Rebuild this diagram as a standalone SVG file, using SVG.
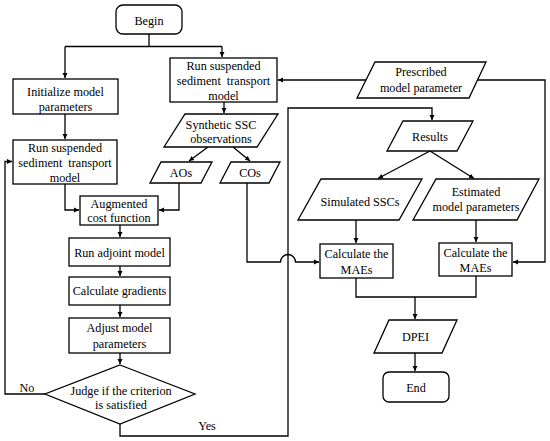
<svg xmlns="http://www.w3.org/2000/svg" width="550" height="441" viewBox="0 0 550 441">
<style>
.s{fill:#fff;stroke:#000;stroke-width:1.3}
.c{fill:none;stroke:#000;stroke-width:1.3}
text{font-family:"Liberation Serif","Times New Roman",serif;font-size:12.2px;fill:#000;text-anchor:middle}
</style>
<defs>
<marker id="a" markerUnits="userSpaceOnUse" markerWidth="6" markerHeight="6" refX="5" refY="3" orient="auto">
<path d="M0,0.5 L5,3 L0,5.5 z" fill="#000"/>
</marker>
</defs>
<rect width="550" height="441" fill="#fff"/>
<g id="connectors">
<path class="c" d="M149,34 V46.5 M65,46.5 H222"/>
<path class="c" d="M65,46.5 V78" marker-end="url(#a)"/>
<path class="c" d="M222,46.5 V57" marker-end="url(#a)"/>
<path class="c" d="M224,102 V113" marker-end="url(#a)"/>
<path class="c" d="M65,114 V139" marker-end="url(#a)"/>
<path class="c" d="M208,147 L189,161" marker-end="url(#a)"/>
<path class="c" d="M233,147 L250,161" marker-end="url(#a)"/>
<path class="c" d="M65,184 V210 H79" marker-end="url(#a)"/>
<path class="c" d="M179,183 V210 H159" marker-end="url(#a)"/>
<path class="c" d="M120,225 V237" marker-end="url(#a)"/>
<path class="c" d="M120,266 V276" marker-end="url(#a)"/>
<path class="c" d="M120,305 V317" marker-end="url(#a)"/>
<path class="c" d="M120,353 V364" marker-end="url(#a)"/>
<path class="c" d="M45,394 H5 V161.5 H12" marker-end="url(#a)"/>
<path class="c" d="M120,424 V436 H288 V108 H432 V120" marker-end="url(#a)"/>
<path class="c" d="M247,183 V262 H280.5 A7.5,7.5 0 0 1 295.5,262 H319" marker-end="url(#a)"/>
<path class="c" d="M366,80 H278" marker-end="url(#a)"/>
<path class="c" d="M477,80 H545 V262 H513" marker-end="url(#a)"/>
<path class="c" d="M430,151 L378,178.5" marker-end="url(#a)"/>
<path class="c" d="M430,151 L474,178.5" marker-end="url(#a)"/>
<path class="c" d="M356,220 V243" marker-end="url(#a)"/>
<path class="c" d="M476,220 V242" marker-end="url(#a)"/>
<path class="c" d="M356,278 V297 H476 V276 M415,297 V319" marker-end="url(#a)"/>
<path class="c" d="M415,353 V371" marker-end="url(#a)"/>
</g>
<g id="begin"><rect class="s" x="116" y="5" width="66" height="29" rx="7"/><text x="149" y="25">Begin</text></g>
<g id="init"><rect class="s" x="13" y="79" width="105" height="35"/><text x="65.5" y="96">Initialize model</text><text x="65.5" y="111">parameters</text></g>
<g id="runR"><rect class="s" x="170" y="58" width="107" height="44"/><text x="223.5" y="70">Run suspended</text><text x="223.5" y="85" word-spacing="3">sediment transport</text><text x="223.5" y="100">model</text></g>
<g id="synth"><polygon class="s" points="185,114 278,114 257,147 164,147"/><text x="221" y="129">Synthetic SSC</text><text x="221" y="143">observations</text></g>
<g id="aos"><polygon class="s" points="161,162 212,162 201,183 150,183"/><text x="181" y="177">AOs</text></g>
<g id="cos"><polygon class="s" points="231,162 280,162 269,183 220,183"/><text x="250" y="177">COs</text></g>
<g id="runL"><rect class="s" x="13" y="140" width="104" height="44"/><text x="65" y="152">Run suspended</text><text x="65" y="167" word-spacing="3">sediment transport</text><text x="65" y="182">model</text></g>
<g id="aug"><rect class="s" x="80" y="196" width="78" height="29"/><text x="119" y="208">Augmented</text><text x="119" y="222">cost function</text></g>
<g id="adjoint"><rect class="s" x="69" y="238" width="101" height="28"/><text x="119.5" y="257">Run adjoint model</text></g>
<g id="grad"><rect class="s" x="69" y="277" width="101" height="28"/><text x="119.5" y="295">Calculate gradients</text></g>
<g id="adjust"><rect class="s" x="69" y="318" width="101" height="35"/><text x="119.5" y="332">Adjust model</text><text x="119.5" y="348">parameters</text></g>
<g id="judge"><polygon class="s" points="120,365 195,394 120,424 45,394"/><text x="121" y="395">Judge if the criterion</text><text x="121" y="409">is satisfied</text></g>
<g id="labels"><text x="27" y="392">No</text><text x="207" y="430">Yes</text></g>
<g id="prescribed"><polygon class="s" points="375,62 486,62 469,98 357,98"/><text x="421" y="76">Prescribed</text><text x="421" y="92">model parameter</text></g>
<g id="results"><polygon class="s" points="403,121 473,121 457,151 387,151"/><text x="430" y="141">Results</text></g>
<g id="simulated"><polygon class="s" points="321,179 422,179 399,220 298,220"/><text x="360" y="206">Simulated SSCs</text></g>
<g id="estimated"><polygon class="s" points="436,179 539,179 517,220 413,220"/><text x="476" y="196">Estimated</text><text x="476" y="211">model parameters</text></g>
<g id="maeL"><rect class="s" x="320" y="244" width="73" height="34"/><text x="356.5" y="258">Calculate the</text><text x="356.5" y="274">MAEs</text></g>
<g id="maeR"><rect class="s" x="439" y="243" width="73" height="33"/><text x="475.5" y="257">Calculate the</text><text x="475.5" y="272">MAEs</text></g>
<g id="dpei"><polygon class="s" points="389,320 457,320 442,353 374,353"/><text x="415.5" y="341">DPEI</text></g>
<g id="end"><rect class="s" x="383" y="372" width="66" height="30" rx="6"/><text x="416" y="392">End</text></g>
</svg>
